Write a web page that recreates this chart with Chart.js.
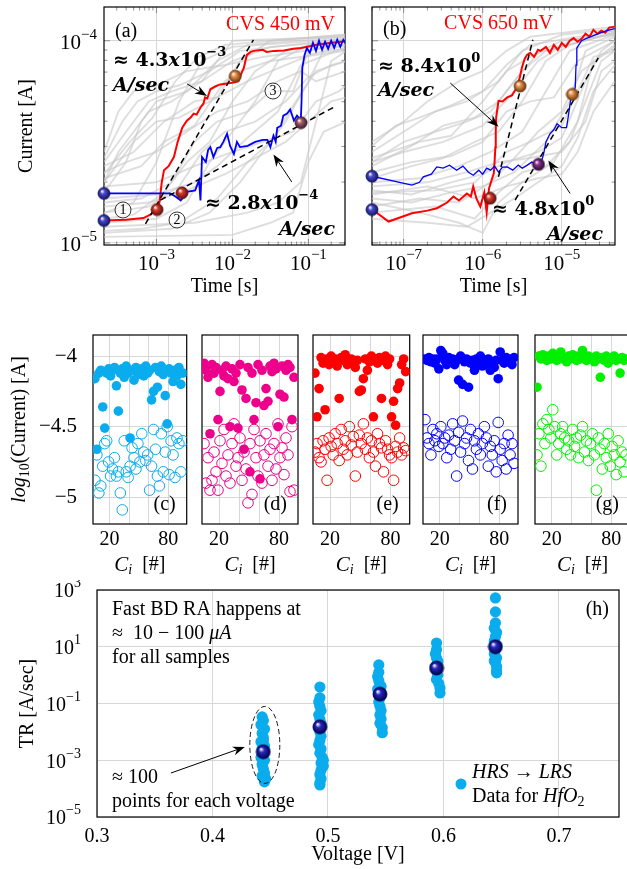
<!DOCTYPE html>
<html>
<head>
<meta charset="utf-8">
<script src="https://cdn.jsdelivr.net/npm/chart.js@4.4.1/dist/chart.umd.min.js"></script>
<style>
  body { margin: 0; width: 627px; height: 869px; position: relative; overflow: hidden; background: #fff; }
  canvas { position: absolute; }
</style>
</head>
<body>
<script>
// ---------- data ----------
// panels (a) and (b): [log10(time / s), log10(current / A)]
const redA = [[-3.69,-4.889],[-3.4,-4.885],[-3.17,-4.877],[-3.08,-4.86],[-3.0,-4.833],[-2.96,-4.8],[-2.93,-4.7],[-2.9,-4.64],[-2.84,-4.62],[-2.77,-4.575],[-2.72,-4.5],[-2.66,-4.43],[-2.6,-4.395],[-2.55,-4.38],[-2.51,-4.36],[-2.47,-4.365],[-2.42,-4.33],[-2.38,-4.31],[-2.36,-4.28],[-2.33,-4.285],[-2.29,-4.24],[-2.22,-4.225],[-2.16,-4.216],[-2.05,-4.21],[-1.98,-4.207],[-1.92,-4.2],[-1.88,-4.16],[-1.85,-4.134],[-1.81,-4.07],[-1.76,-4.055],[-1.72,-4.05],[-1.6,-4.045],[-1.55,-4.055],[-1.45,-4.05],[-1.32,-4.048],[-1.2,-4.04],[-1.1,-4.036],[-1.0,-4.028],[-0.89,-4.02],[-0.75,-4.012],[-0.6,-4.006],[-0.51,-4.003]];
const blueA = [[-3.69,-4.755],[-3.2,-4.755],[-2.82,-4.755],[-2.75,-4.77],[-2.68,-4.79],[-2.63,-4.765],[-2.6,-4.747],[-2.49,-4.74],[-2.44,-4.69],[-2.42,-4.79],[-2.4,-4.575],[-2.35,-4.6],[-2.32,-4.54],[-2.29,-4.526],[-2.25,-4.575],[-2.2,-4.53],[-2.16,-4.526],[-2.12,-4.5],[-2.07,-4.46],[-2.03,-4.52],[-1.98,-4.56],[-1.94,-4.5],[-1.9,-4.526],[-1.8,-4.52],[-1.7,-4.5],[-1.6,-4.49],[-1.54,-4.49],[-1.5,-4.526],[-1.46,-4.47],[-1.43,-4.5],[-1.41,-4.43],[-1.36,-4.42],[-1.33,-4.37],[-1.28,-4.36],[-1.24,-4.34],[-1.19,-4.395],[-1.15,-4.37],[-1.1,-4.395],[-1.09,-4.3],[-1.08,-4.134],[-1.05,-4.07],[-1.02,-4.036],[-0.98,-4.06],[-0.94,-4.01],[-0.9,-4.05],[-0.86,-4.0],[-0.82,-4.045],[-0.78,-4.005],[-0.74,-4.04],[-0.7,-4.0],[-0.66,-4.035],[-0.62,-3.995],[-0.58,-4.03],[-0.54,-3.995],[-0.51,-4.01]];
const grayA = [
  [[-3.69,-4.85],[-3.3,-4.8],[-3.0,-4.6],[-2.7,-4.3],[-2.4,-4.1],[-2.0,-4.03],[-0.5,-3.99]],
  [[-3.69,-4.75],[-3.4,-4.6],[-3.2,-4.4],[-3.0,-4.3],[-2.6,-4.25],[-2.2,-4.1],[-1.8,-4.02],[-0.5,-3.98]],
  [[-3.69,-4.7],[-3.5,-4.55],[-3.3,-4.45],[-3.1,-4.35],[-2.8,-4.3],[-2.4,-4.2],[-2.0,-4.1],[-1.5,-4.03],[-0.5,-4.0]],
  [[-3.69,-4.9],[-3.0,-4.88],[-2.6,-4.8],[-2.3,-4.6],[-2.0,-4.45],[-1.7,-4.3],[-1.4,-4.1],[-1.0,-4.02],[-0.5,-4.0]],
  [[-3.69,-4.95],[-2.8,-4.93],[-2.3,-4.85],[-1.9,-4.7],[-1.6,-4.55],[-1.3,-4.4],[-1.0,-4.2],[-0.8,-4.05],[-0.5,-4.02]],
  [[-3.69,-4.8],[-3.2,-4.78],[-2.8,-4.7],[-2.5,-4.5],[-2.2,-4.4],[-1.8,-4.35],[-1.5,-4.25],[-1.2,-4.25],[-1.0,-4.05],[-0.5,-4.0]],
  [[-3.69,-4.65],[-3.4,-4.6],[-3.0,-4.55],[-2.6,-4.45],[-2.2,-4.35],[-1.8,-4.3],[-1.4,-4.2],[-1.1,-4.15],[-0.9,-4.2],[-0.5,-4.15]],
  [[-3.69,-4.6],[-3.4,-4.45],[-3.1,-4.3],[-2.8,-4.25],[-2.4,-4.2],[-2.0,-4.0],[-0.5,-3.98]],
  [[-3.69,-4.92],[-2.5,-4.9],[-1.8,-4.85],[-1.4,-4.8],[-1.1,-4.7],[-0.9,-4.4],[-0.7,-4.1],[-0.5,-4.05]],
  [[-3.69,-4.72],[-3.0,-4.7],[-2.5,-4.62],[-2.0,-4.55],[-1.6,-4.5],[-1.2,-4.45],[-0.9,-4.3],[-0.6,-4.25],[-0.5,-4.22]],
  [[-3.69,-4.55],[-3.5,-4.35],[-3.3,-4.25],[-3.0,-4.22],[-2.6,-4.15],[-2.1,-4.12],[-1.6,-4.08],[-0.5,-4.02]],
  [[-3.69,-4.85],[-3.1,-4.82],[-2.7,-4.72],[-2.4,-4.55],[-2.1,-4.45],[-1.7,-4.4],[-1.3,-4.3],[-1.0,-4.18],[-0.7,-4.12],[-0.5,-4.1]],
  [[-3.69,-4.97],[-2.0,-4.96],[-1.5,-4.9],[-1.2,-4.85],[-1.0,-4.6],[-0.8,-4.45],[-0.5,-4.4]],
  [[-3.69,-4.68],[-3.2,-4.62],[-2.9,-4.5],[-2.5,-4.42],[-2.1,-4.2],[-1.9,-4.15],[-1.5,-4.1],[-0.5,-4.05]],
  [[-3.69,-4.62],[-3.3,-4.55],[-2.9,-4.4],[-2.5,-4.3],[-2.2,-4.28],[-1.9,-4.1],[-1.5,-4.0],[-0.5,-3.97]],
  [[-3.69,-4.78],[-3.0,-4.76],[-2.5,-4.7],[-2.2,-4.62],[-1.8,-4.48],[-1.4,-4.35],[-1.1,-4.12],[-0.5,-4.03]],
  [[-3.69,-4.88],[-3.3,-4.86],[-2.9,-4.75],[-2.6,-4.6],[-2.3,-4.5],[-2.0,-4.3],[-1.7,-4.15],[-1.3,-4.05],[-0.5,-4.0]],
  [[-3.69,-4.7],[-3.3,-4.5],[-3.0,-4.4],[-2.7,-4.38],[-2.3,-4.3],[-1.8,-4.2],[-1.3,-4.12],[-0.9,-4.06],[-0.5,-4.04]],
  [[-3.69,-4.94],[-3.2,-4.93],[-2.7,-4.9],[-2.2,-4.78],[-1.8,-4.6],[-1.5,-4.5],[-1.2,-4.32],[-0.9,-4.15],[-0.5,-4.1]],
  [[-3.69,-4.58],[-3.45,-4.4],[-3.25,-4.3],[-3.0,-4.25],[-2.7,-4.22],[-2.3,-4.15],[-1.9,-4.05],[-0.5,-3.99]],
  [[-3.69,-4.82],[-3.1,-4.8],[-2.6,-4.74],[-2.1,-4.66],[-1.7,-4.58],[-1.3,-4.5],[-1.0,-4.4],[-0.7,-4.3],[-0.5,-4.28]],
  [[-3.69,-4.66],[-3.35,-4.5],[-3.05,-4.38],[-2.75,-4.2],[-2.45,-4.08],[-2.1,-4.02],[-0.5,-3.97]]
];
const dashA = [[[-3.144,-4.905],[-1.723,-3.995]], [[-2.948,-4.788],[-0.673,-4.33]]];
const ballsA = [[-3.69,-4.755],[-3.69,-4.889],[-2.991,-4.835],[-2.663,-4.752],[-1.963,-4.175],[-1.097,-4.405]];

const redB = [[-7.4,-4.833],[-7.19,-4.894],[-6.895,-4.853],[-6.7,-4.84],[-6.58,-4.828],[-6.45,-4.8],[-6.37,-4.77],[-6.3,-4.79],[-6.2,-4.755],[-6.15,-4.77],[-6.12,-4.72],[-6.08,-4.78],[-6.03,-4.82],[-5.98,-4.75],[-5.95,-4.85],[-5.92,-4.73],[-5.9,-4.705],[-5.88,-4.68],[-5.86,-4.657],[-5.85,-4.6],[-5.84,-4.526],[-5.835,-4.45],[-5.83,-4.38],[-5.8,-4.297],[-5.75,-4.3],[-5.69,-4.28],[-5.63,-4.27],[-5.57,-4.232],[-5.53,-4.18],[-5.505,-4.134],[-5.47,-4.09],[-5.44,-4.07],[-5.4,-4.06],[-5.35,-4.08],[-5.3,-4.045],[-5.27,-4.05],[-5.2,-4.03],[-5.15,-4.06],[-5.1,-4.02],[-5.05,-4.045],[-5.0,-4.01],[-4.95,-4.03],[-4.9,-4.0],[-4.85,-3.987],[-4.8,-4.005],[-4.75,-3.99],[-4.7,-3.965],[-4.65,-3.98],[-4.6,-3.946],[-4.55,-3.965],[-4.5,-3.95],[-4.45,-3.96],[-4.4,-3.935],[-4.33,-3.93]];
const blueB = [[-7.4,-4.67],[-6.895,-4.714],[-6.8,-4.7],[-6.75,-4.673],[-6.65,-4.66],[-6.58,-4.624],[-6.5,-4.63],[-6.42,-4.615],[-6.33,-4.64],[-6.25,-4.62],[-6.18,-4.65],[-6.12,-4.665],[-6.05,-4.64],[-6.0,-4.66],[-5.95,-4.63],[-5.9,-4.64],[-5.85,-4.62],[-5.8,-4.65],[-5.75,-4.625],[-5.69,-4.624],[-5.62,-4.64],[-5.55,-4.615],[-5.5,-4.63],[-5.44,-4.616],[-5.38,-4.6],[-5.3,-4.616],[-5.26,-4.6],[-5.23,-4.56],[-5.2,-4.5],[-5.15,-4.46],[-5.1,-4.44],[-5.06,-4.41],[-5.0,-4.43],[-4.94,-4.43],[-4.92,-4.38],[-4.89,-4.297],[-4.86,-4.26],[-4.83,-4.232],[-4.82,-4.12],[-4.81,-4.036],[-4.75,-4.0],[-4.68,-3.987],[-4.6,-3.975],[-4.52,-3.962],[-4.43,-3.95],[-4.33,-3.94]];
const grayB = [
  [[-7.4,-4.55],[-7.0,-4.45],[-6.6,-4.35],[-6.2,-4.3],[-5.8,-4.2],[-5.5,-4.05],[-5.0,-3.97],[-4.33,-3.94]],
  [[-7.4,-4.6],[-7.0,-4.55],[-6.5,-4.5],[-6.0,-4.42],[-5.6,-4.25],[-5.3,-4.1],[-4.9,-4.0],[-4.33,-3.95]],
  [[-7.4,-4.7],[-6.8,-4.68],[-6.3,-4.62],[-5.9,-4.55],[-5.5,-4.45],[-5.2,-4.25],[-4.9,-4.05],[-4.33,-3.97]],
  [[-7.4,-4.78],[-6.9,-4.8],[-6.4,-4.75],[-6.0,-4.72],[-5.6,-4.65],[-5.2,-4.5],[-4.9,-4.3],[-4.7,-4.05],[-4.33,-3.98]],
  [[-7.4,-4.8],[-6.8,-4.85],[-6.3,-4.9],[-6.0,-4.95],[-5.8,-4.8],[-5.5,-4.7],[-5.1,-4.6],[-4.8,-4.4],[-4.6,-4.1],[-4.33,-4.02]],
  [[-7.4,-4.5],[-7.0,-4.4],[-6.7,-4.3],[-6.3,-4.2],[-6.0,-4.15],[-5.7,-4.05],[-5.4,-3.98],[-4.33,-3.93]],
  [[-7.4,-4.65],[-6.9,-4.6],[-6.4,-4.57],[-6.0,-4.5],[-5.7,-4.35],[-5.4,-4.3],[-5.1,-4.28],[-4.8,-4.1],[-4.33,-4.0]],
  [[-7.4,-4.72],[-6.7,-4.7],[-6.2,-4.65],[-5.8,-4.6],[-5.4,-4.58],[-5.0,-4.55],[-4.7,-4.4],[-4.5,-4.15],[-4.33,-4.1]],
  [[-7.4,-4.62],[-6.9,-4.52],[-6.5,-4.42],[-6.1,-4.38],[-5.8,-4.3],[-5.5,-4.15],[-5.2,-4.05],[-4.33,-3.96]],
  [[-7.4,-4.75],[-6.6,-4.74],[-6.1,-4.7],[-5.7,-4.55],[-5.4,-4.5],[-5.0,-4.42],[-4.8,-4.25],[-4.6,-4.08],[-4.33,-4.05]],
  [[-7.4,-4.85],[-6.6,-4.82],[-6.1,-4.88],[-5.8,-4.75],[-5.5,-4.65],[-5.2,-4.62],[-4.9,-4.5],[-4.7,-4.3],[-4.5,-4.1],[-4.33,-4.05]],
  [[-7.4,-4.58],[-6.8,-4.5],[-6.4,-4.47],[-6.0,-4.3],[-5.7,-4.15],[-5.4,-4.08],[-5.0,-4.0],[-4.33,-3.97]],
  [[-7.4,-4.68],[-6.9,-4.62],[-6.5,-4.58],[-6.1,-4.5],[-5.8,-4.45],[-5.5,-4.3],[-5.2,-4.1],[-4.9,-4.02],[-4.33,-3.96]],
  [[-7.4,-4.82],[-6.8,-4.78],[-6.3,-4.8],[-5.9,-4.7],[-5.6,-4.58],[-5.3,-4.45],[-5.0,-4.35],[-4.75,-4.15],[-4.33,-4.03]],
  [[-7.4,-4.52],[-7.1,-4.42],[-6.8,-4.38],[-6.4,-4.32],[-6.0,-4.25],[-5.7,-4.12],[-5.4,-4.02],[-4.33,-3.95]],
  [[-7.4,-4.74],[-6.9,-4.76],[-6.4,-4.7],[-6.0,-4.66],[-5.7,-4.6],[-5.3,-4.55],[-5.0,-4.48],[-4.7,-4.2],[-4.5,-4.05],[-4.33,-4.0]],
  [[-7.4,-4.88],[-6.7,-4.9],[-6.2,-4.92],[-5.9,-4.85],[-5.6,-4.78],[-5.3,-4.7],[-5.0,-4.62],[-4.8,-4.48],[-4.6,-4.25],[-4.33,-4.12]],
  [[-7.4,-4.6],[-7.0,-4.5],[-6.6,-4.45],[-6.2,-4.4],[-5.9,-4.35],[-5.6,-4.2],[-5.3,-4.06],[-4.33,-3.96]],
  [[-7.4,-4.76],[-6.7,-4.72],[-6.1,-4.78],[-5.7,-4.72],[-5.3,-4.68],[-5.0,-4.66],[-4.8,-4.55],[-4.6,-4.35],[-4.33,-4.2]]
];
const dashB = [[[-5.8,-4.673],[-5.366,-3.995]], [[-5.59,-4.788],[-4.538,-4.085]]];
const ballsB = [[-7.4,-4.67],[-7.4,-4.835],[-5.905,-4.779],[-5.527,-4.224],[-5.295,-4.611],[-4.866,-4.265]];

const timeTicksA = [-3, -2, -1];
const timeTicksB = [-7, -6, -5];
const currentTicks = [-5, -4];

// panels (c)-(g): cycle number vs log10(current)
const cycles = [5,7,9,11,13,15,17,19,21,23,25,27,29,31,33,35,37,39,41,43,45,47,49,51,53,55,57,59,61,63,65,67,69,71,73,75,77,79,81,83,85,87,89,91,93,95];
const cFilled = [-4.16,-4.66,-4.12,-4.1,-4.36,-4.51,-4.12,-4.09,-4.14,-4.1,-4.08,-4.21,-4.39,-4.12,-4.09,-4.15,-4.07,-4.12,-4.58,-4.1,-4.17,-4.08,-4.13,-4.11,-4.09,-4.14,-4.07,-4.12,-4.1,-4.31,-4.25,-4.08,-4.22,-4.11,-4.07,-4.13,-4.28,-4.48,-4.09,-4.12,-4.18,-4.1,-4.14,-4.08,-4.2,-4.12];
const cOpen = [-4.88,-4.7,-4.97,-4.92,-4.78,-4.62,-4.6,-4.75,-4.85,-4.8,-4.72,-4.85,-4.82,-4.97,-5.09,-4.6,-4.82,-4.86,-4.78,-4.65,-4.72,-4.8,-4.62,-4.75,-4.55,-4.68,-4.74,-4.7,-4.95,-4.78,-4.52,-4.66,-4.85,-4.92,-4.55,-4.82,-4.68,-4.5,-4.84,-4.6,-4.7,-4.86,-4.58,-4.62,-4.82,-4.6];
const dFilled = [-4.05,-4.1,-4.15,-4.55,-4.06,-4.12,-4.08,-4.45,-4.25,-4.1,-4.14,-4.07,-4.16,-4.5,-4.09,-4.18,-4.12,-4.51,-4.06,-4.24,-4.66,-4.3,-4.08,-4.82,-4.12,-4.45,-4.33,-4.06,-4.87,-4.1,-4.35,-4.23,-4.32,-4.07,-4.11,-4.05,-4.09,-4.5,-4.27,-4.07,-4.29,-4.1,-4.06,-4.08,-4.45,-4.15];
const dOpen = [-4.62,-4.9,-4.72,-4.95,-4.88,-4.68,-4.82,-4.95,-4.6,-4.76,-4.52,-4.85,-4.7,-4.9,-4.62,-4.48,-4.78,-4.72,-4.58,-4.88,-4.68,-4.8,-5.04,-4.62,-4.98,-4.52,-4.72,-4.85,-4.6,-4.9,-4.7,-4.55,-4.78,-4.66,-4.88,-4.62,-4.8,-4.48,-4.72,-4.65,-4.84,-4.58,-4.7,-4.96,-4.5,-4.95];
const eFilled = [-4.12,-4.43,-4.23,-4.01,-4.05,-4.38,-4.02,-4.06,-4.0,-4.04,-4.02,-4.07,-4.3,-4.01,-4.03,-3.99,-4.06,-4.04,-4.02,-4.05,-4.08,-4.03,-4.25,-4.24,-4.16,-4.02,-4.1,-4.04,-4.0,-4.43,-4.02,-4.05,-4.01,-4.3,-4.03,-4.0,-4.06,-4.02,-4.43,-4.32,-4.49,-4.23,-4.19,-4.06,-4.02,-4.11];
const eOpen = [-4.68,-4.62,-4.72,-4.75,-4.6,-4.66,-4.88,-4.58,-4.64,-4.7,-4.55,-4.62,-4.74,-4.52,-4.66,-4.6,-4.7,-4.5,-4.63,-4.57,-4.85,-4.68,-4.56,-4.62,-4.48,-4.66,-4.58,-4.72,-4.6,-4.68,-4.78,-4.55,-4.62,-4.65,-4.82,-4.6,-4.66,-4.7,-4.72,-4.88,-4.64,-4.68,-4.58,-4.7,-4.65,-4.67];
const fFilled = [-4.02,-4.03,-4.01,-4.04,-4.02,-4.05,-4.02,-4.09,-3.96,-3.98,-4.03,-4.06,-4.01,-4.04,-4.02,-4.06,-4.03,-4.17,-4.0,-4.2,-4.04,-4.02,-4.22,-4.05,-4.03,-4.1,-4.02,-4.06,-4.0,-4.07,-4.03,-4.05,-4.02,-4.1,-4.04,-4.08,-4.03,-4.16,-3.97,-4.03,-4.05,-4.01,-4.04,-4.02,-4.06,-4.01];
const fOpen = [-4.45,-4.58,-4.62,-4.7,-4.52,-4.6,-4.55,-4.64,-4.5,-4.62,-4.58,-4.72,-4.56,-4.66,-4.48,-4.6,-4.85,-4.54,-4.68,-4.46,-4.62,-4.58,-4.74,-4.52,-4.8,-4.6,-4.66,-4.55,-4.7,-4.62,-4.5,-4.58,-4.78,-4.64,-4.7,-4.6,-4.82,-4.47,-4.66,-4.74,-4.62,-4.8,-4.56,-4.7,-4.62,-4.76];
const gFilled = [-4.22,-4.0,-4.02,-3.99,-4.01,-4.03,-4.0,-4.02,-3.98,-4.01,-4.03,-4.0,-3.97,-4.02,-4.01,-4.04,-4.0,-4.02,-3.99,-4.01,-4.03,-4.0,-4.02,-3.96,-4.01,-4.03,-4.0,-4.02,-4.01,-4.04,-4.0,-4.02,-4.15,-4.01,-4.03,-4.0,-4.05,-4.02,-4.01,-4.0,-4.03,-4.02,-4.12,-4.01,-4.03,-4.02];
const gOpen = [-4.7,-4.55,-4.78,-4.48,-4.62,-4.45,-4.52,-4.58,-4.38,-4.5,-4.7,-4.62,-4.55,-4.5,-4.58,-4.66,-4.6,-4.7,-4.52,-4.64,-4.58,-4.72,-4.56,-4.5,-4.68,-4.6,-4.74,-4.62,-4.55,-4.7,-4.95,-4.58,-4.66,-4.8,-4.62,-4.72,-4.55,-4.78,-4.64,-4.7,-4.84,-4.6,-4.75,-4.68,-4.82,-4.7];
const cycleTicks = [20, 40, 60, 80];
const cycleLabels = [20, 80];
const logCurrentTicks = [-5, -4.5, -4];

// panel (h): [voltage / V, log10(TR / A s^-1)]
const trPoints = [
  [0.443,-1.47],[0.444,-1.6],[0.442,-1.75],[0.445,-1.9],[0.443,-2.05],[0.444,-2.2],[0.442,-2.35],[0.445,-2.5],[0.443,-2.6],[0.444,-2.75],[0.442,-2.9],[0.445,-3.0],[0.443,-3.15],[0.444,-3.3],[0.445,-3.45],[0.443,-3.55],[0.446,-3.65],[0.445,-3.76],[0.444,-2.3],[0.443,-2.85],
  [0.493,-0.42],[0.493,-0.8],[0.492,-0.95],[0.493,-1.1],[0.494,-1.25],[0.492,-1.4],[0.493,-1.55],[0.494,-1.7],[0.492,-1.85],[0.493,-2.0],[0.494,-2.15],[0.493,-2.3],[0.492,-2.45],[0.494,-2.6],[0.493,-2.75],[0.495,-2.9],[0.496,-3.0],[0.494,-3.1],[0.496,-3.2],[0.494,-3.35],[0.493,-3.5],[0.494,-3.65],[0.493,-3.8],[0.493,-3.87],
  [0.544,0.36],[0.544,0.1],[0.543,-0.05],[0.544,-0.2],[0.545,-0.35],[0.543,-0.5],[0.544,-0.65],[0.545,-0.8],[0.544,-0.95],[0.545,-1.1],[0.546,-1.25],[0.545,-1.4],[0.546,-1.55],[0.545,-1.7],[0.547,-1.85],[0.547,-2.03],[0.546,-0.4],
  [0.594,1.13],[0.594,0.9],[0.593,0.75],[0.594,0.6],[0.595,0.45],[0.593,0.3],[0.594,0.15],[0.595,0.0],[0.594,-0.15],[0.596,-0.3],[0.597,-0.45],[0.597,-0.63],[0.595,0.5],
  [0.645,2.72],[0.645,2.23],[0.645,1.84],[0.644,1.65],[0.646,1.5],[0.645,1.35],[0.644,1.2],[0.646,1.05],[0.645,0.9],[0.644,0.75],[0.646,0.6],[0.645,0.45],[0.646,0.3],[0.646,0.15],[0.646,0.08],[0.644,0.5]
];
const trMeans = [[0.444,-2.7],[0.493,-1.82],[0.545,-0.67],[0.594,0.25],[0.645,1.0]];
const voltTicks = [0.3, 0.4, 0.5, 0.6, 0.7];
const trTicks = [-5, -3, -1, 1, 3];

// ---------- helpers ----------
const SERIF = '"Liberation Serif", "Times New Roman", serif';
const WIDE = '"DejaVu Serif", serif';
const f = (px, st) => (st ? st + ' ' : '') + px + 'px ' + SERIF;
const fb = (px, st) => (st ? st + ' ' : '') + 'bold ' + px + 'px ' + WIDE;
const L = v => Math.pow(10, v);
const pts = arr => arr.map(p => ({ x: L(p[0]), y: L(p[1]) }));
const sup = e => String(e).replace('-', '\u2212');
const pow10 = (e, s) => [['10', f(s)], [sup(e), f(Math.round(s * 0.72)), -s * 0.42]];

function rich(ctx, parts, x, y, align, color) {
  ctx.save();
  ctx.fillStyle = color || '#000';
  ctx.textBaseline = 'middle';
  ctx.textAlign = 'left';
  let w = 0;
  for (const p of parts) { ctx.font = p[1]; w += ctx.measureText(p[0]).width; }
  let cx = align === 'right' ? x - w : align === 'center' ? x - w / 2 : x;
  for (const p of parts) {
    ctx.font = p[1];
    ctx.fillText(p[0], cx, y + (p[2] || 0));
    cx += ctx.measureText(p[0]).width;
  }
  ctx.restore();
}
function vtext(ctx, parts, x, y) {
  ctx.save(); ctx.translate(x, y); ctx.rotate(-Math.PI / 2);
  rich(ctx, parts, 0, 0, 'center');
  ctx.restore();
}
function arrow(ctx, x1, y1, x2, y2) {
  const a = Math.atan2(y2 - y1, x2 - x1), hl = 12, hw = 4.5;
  ctx.save();
  ctx.strokeStyle = ctx.fillStyle = '#000';
  ctx.lineWidth = 1;
  ctx.beginPath(); ctx.moveTo(x1, y1);
  ctx.lineTo(x2 - hl * 0.7 * Math.cos(a), y2 - hl * 0.7 * Math.sin(a)); ctx.stroke();
  ctx.beginPath(); ctx.moveTo(x2, y2);
  ctx.lineTo(x2 - hl * Math.cos(a) + hw * Math.sin(a), y2 - hl * Math.sin(a) - hw * Math.cos(a));
  ctx.lineTo(x2 - hl * 0.7 * Math.cos(a), y2 - hl * 0.7 * Math.sin(a));
  ctx.lineTo(x2 - hl * Math.cos(a) - hw * Math.sin(a), y2 - hl * Math.sin(a) + hw * Math.cos(a));
  ctx.closePath(); ctx.fill();
  ctx.restore();
}
function circled(ctx, x, y, t) {
  ctx.save();
  ctx.strokeStyle = '#000'; ctx.lineWidth = 0.8;
  ctx.fillStyle = 'rgba(255,255,255,0.6)';
  ctx.beginPath(); ctx.arc(x, y, 8, 0, 2 * Math.PI); ctx.fill(); ctx.stroke();
  ctx.restore();
  rich(ctx, [[t, f(14)]], x, y + 0.5, 'center');
}
function sphere(main, dark, r) {
  const c = document.createElement('canvas');
  c.width = c.height = 2 * r + 2;
  const g = c.getContext('2d'), m = r + 1;
  const grad = g.createRadialGradient(m - r * 0.35, m - r * 0.4, r * 0.05, m, m, r);
  grad.addColorStop(0, '#ffffff');
  grad.addColorStop(0.35, main);
  grad.addColorStop(1, dark);
  g.fillStyle = grad;
  g.beginPath(); g.arc(m, m, r, 0, 2 * Math.PI); g.fill();
  g.strokeStyle = dark; g.lineWidth = 0.8; g.stroke();
  return c;
}
const ballBlue = sphere('#4a4ad0', '#14145a', 6);
const ballRed = sphere('#d83a2a', '#5a1010', 6);
const ballOrange = sphere('#e8904a', '#6a3a10', 6);
const ballPurple = sphere('#8a3090', '#2a0a30', 6);
const ballMauve = sphere('#a8606a', '#3a1a30', 6);
const ballMean = sphere('#2828c0', '#00004a', 7);

function mkCanvas(r) {
  const c = document.createElement('canvas');
  c.width = r[2]; c.height = r[3];
  c.style.left = r[0] + 'px'; c.style.top = r[1] + 'px';
  document.body.appendChild(c);
  return c;
}
// rect = [x, y, w, h] of the canvas, area = [left, top, right, bottom] of the plot box (page px)
function lay(rect, area) {
  return {
    padding: { left: 0, top: area[1] - rect[1], right: rect[0] + rect[2] - area[2], bottom: 0 },
    yW: area[0] - rect[0],
    xH: rect[1] + rect[3] - area[3]
  };
}
// fix axis sizes so the plot box lands where the figure has it
const fitX = h => s => { s.height = h; s.paddingLeft = 0; s.paddingRight = 0; };
const fitY = w => s => { s.width = w; s.paddingTop = 0; s.paddingBottom = 0; };

function boxPlugin(minor) {
  return {
    id: 'box',
    beforeDatasetsDraw(c) {
      const { ctx, chartArea: a } = c;
      ctx.save();
      if (minor) {
        ctx.strokeStyle = '#666'; ctx.lineWidth = 0.7;
        ctx.beginPath();
        for (const k of ['x', 'y']) {
          const s = c.scales[k];
          const lo = Math.floor(Math.log10(s.min)), hi = Math.ceil(Math.log10(s.max));
          for (let d = lo; d <= hi; d++) {
            for (let m = 1; m <= 9; m++) {
              const v = m * Math.pow(10, d);
              if (v <= s.min || v >= s.max) continue;
              const p = s.getPixelForValue(v), len = m === 1 ? 6 : 3.5;
              if (k === 'y') {
                ctx.moveTo(a.left, p); ctx.lineTo(a.left + len, p);
                ctx.moveTo(a.right, p); ctx.lineTo(a.right - len, p);
              } else {
                ctx.moveTo(p, a.bottom); ctx.lineTo(p, a.bottom - len);
                ctx.moveTo(p, a.top); ctx.lineTo(p, a.top + len);
              }
            }
          }
        }
        ctx.stroke();
      }
      ctx.strokeStyle = '#000'; ctx.lineWidth = 1.2;
      ctx.strokeRect(a.left, a.top, a.right - a.left, a.bottom - a.top);
      ctx.restore();
    }
  };
}
const GRID = { color: '#d2d2d2', lineWidth: 0.9, drawTicks: false };
const baseOpts = { responsive: false, animation: false, events: [],
  plugins: { legend: { display: false }, tooltip: { enabled: false } } };

// ---------- (a) and (b) ----------
function curveChart(rect, area, xLim, xTicks, d, draw) {
  const g = lay(rect, area);
  const ds = [];
  d.gray.forEach(c => ds.push({ data: pts(c), showLine: true, pointRadius: 0, borderColor: 'rgba(200,200,200,0.6)', borderWidth: 1.9, order: 5 }));
  ds.push({ data: pts(d.red), showLine: true, pointRadius: 0, borderColor: '#ff0000', borderWidth: 2, order: 3 });
  ds.push({ data: pts(d.blue), showLine: true, pointRadius: 0, borderColor: '#0000ff', borderWidth: d.blueW, order: 2 });
  d.dash.forEach(c => ds.push({ data: pts(c), showLine: true, pointRadius: 0, borderColor: '#000', borderWidth: 1.5, borderDash: [6, 4], order: 1 }));
  ds.push({ data: pts(d.balls), pointStyle: d.ballStyles, pointRadius: 6, clip: false, order: 0 });
  return new Chart(mkCanvas(rect), {
    type: 'scatter',
    data: { datasets: ds },
    options: Object.assign({}, baseOpts, {
      layout: { padding: g.padding },
      scales: {
        x: { type: 'logarithmic', min: L(xLim[0]), max: L(xLim[1]),
             afterBuildTicks: s => { s.ticks = xTicks.map(e => ({ value: L(e) })); },
             afterFit: fitX(g.xH),
             ticks: { display: false }, grid: GRID, border: { display: false } },
        y: { type: 'logarithmic', min: L(-5.01), max: L(-3.833),
             afterBuildTicks: s => { s.ticks = currentTicks.map(e => ({ value: L(e) })); },
             afterFit: fitY(g.yW),
             ticks: { display: false }, grid: GRID, border: { display: false } }
      }
    }),
    plugins: [boxPlugin(true), { id: 'ann', afterDraw: c => draw(c, c.ctx) }]
  });
}
const approx = (m, e) => [['\u2248 ', fb(19)], [m, fb(19)], ['x', fb(19, 'italic')], ['10', fb(19)], [sup(e), fb(13), -8]];

curveChart([0, 0, 352, 300], [104, 5, 345, 245], [-3.69, -0.518], timeTicksA,
  { gray: grayA, red: redA, blue: blueA, blueW: 1.8, dash: dashA, balls: ballsA,
    ballStyles: [ballBlue, ballBlue, ballRed, ballRed, ballOrange, ballMauve] },
  (c, ctx) => {
    const a = c.chartArea, X = c.scales.x, Y = c.scales.y;
    const px = e => X.getPixelForValue(L(e)), py = e => Y.getPixelForValue(L(e));
    timeTicksA.forEach(e => rich(ctx, pow10(e, 21), px(e), a.bottom + 19, 'center'));
    currentTicks.forEach(e => rich(ctx, pow10(e, 21), a.left - 7, py(e) + 3, 'right'));
    rich(ctx, [['Time [s]', f(20)]], (a.left + a.right) / 2, a.bottom + 42, 'center');
    vtext(ctx, [['Current [A]', f(20)]], a.left - 77, (a.top + a.bottom) / 2);
    rich(ctx, [['(a)', f(20)]], a.left + 11, a.top + 25, 'left');
    rich(ctx, [['CVS 450 mV', f(20)]], a.right - 10, a.top + 18, 'right', '#ff0000');
    rich(ctx, approx('4.3', -3), a.left + 9, a.top + 54, 'left');
    rich(ctx, [['A/sec', fb(19, 'italic')]], a.left + 9, a.top + 79, 'left');
    rich(ctx, approx('2.8', -4), a.left + 101, a.top + 197, 'left');
    rich(ctx, [['A/sec', fb(19, 'italic')]], a.right - 10, a.top + 223, 'right');
    circled(ctx, a.left + 169, a.top + 84, '3');
    circled(ctx, a.left + 19, a.top + 203, '1');
    circled(ctx, a.left + 73, a.top + 213, '2');
    arrow(ctx, px(-2.597), py(-4.213), px(-2.335), py(-4.273));
    arrow(ctx, px(-1.219), py(-4.698), px(-1.46), py(-4.562));
  });

curveChart([352, 0, 275, 300], [372, 5, 615, 245], [-7.4, -4.327], timeTicksB,
  { gray: grayB, red: redB, blue: blueB, blueW: 1.3, dash: dashB, balls: ballsB,
    ballStyles: [ballBlue, ballBlue, ballRed, ballOrange, ballPurple, ballOrange] },
  (c, ctx) => {
    const a = c.chartArea, X = c.scales.x, Y = c.scales.y;
    const px = e => X.getPixelForValue(L(e)), py = e => Y.getPixelForValue(L(e));
    timeTicksB.forEach(e => rich(ctx, pow10(e, 21), px(e), a.bottom + 19, 'center'));
    rich(ctx, [['Time [s]', f(20)]], (a.left + a.right) / 2, a.bottom + 42, 'center');
    rich(ctx, [['(b)', f(20)]], a.left + 11, a.top + 23, 'left');
    rich(ctx, [['CVS 650 mV', f(20)]], a.left + 181, a.top + 17, 'right', '#ff0000');
    rich(ctx, approx('8.4', 0), a.left + 6, a.top + 60, 'left');
    rich(ctx, [['A/sec', fb(19, 'italic')]], a.left + 6, a.top + 84, 'left');
    rich(ctx, approx('4.8', 0), a.left + 120, a.top + 203, 'left');
    rich(ctx, [['A/sec', fb(19, 'italic')]], a.right - 12, a.top + 228, 'right');
    arrow(ctx, px(-6.41), py(-4.209), px(-5.8), py(-4.425));
    arrow(ctx, px(-4.895), py(-4.755), px(-5.17), py(-4.592));
  });

// ---------- (c)-(g) ----------
function cyclePanel(rect, area, color, filled, open, letter, first) {
  const g = lay(rect, area);
  return new Chart(mkCanvas(rect), {
    type: 'scatter',
    data: { datasets: [
      { data: filled.map((v, i) => ({ x: cycles[i], y: v })), pointRadius: 4.8, backgroundColor: color, borderWidth: 0 },
      { data: open.map((v, i) => ({ x: cycles[i], y: v })), pointRadius: 5.3, backgroundColor: 'rgba(0,0,0,0)', borderColor: color, borderWidth: 1 }
    ] },
    options: Object.assign({}, baseOpts, {
      layout: { padding: g.padding },
      scales: {
        x: { type: 'linear', min: 3, max: 99,
             afterBuildTicks: s => { s.ticks = cycleTicks.map(v => ({ value: v })); },
             afterFit: fitX(g.xH),
             ticks: { autoSkip: false, maxRotation: 0, padding: 4, color: '#000', font: { family: SERIF, size: 20 },
                      callback: v => cycleLabels.includes(v) ? String(v) : '' },
             grid: GRID, border: { display: false } },
        y: { type: 'linear', min: -5.19, max: -3.85,
             afterBuildTicks: s => { s.ticks = logCurrentTicks.map(v => ({ value: v })); },
             afterFit: fitY(g.yW),
             ticks: { display: first, padding: 16, color: '#000', font: { family: SERIF, size: 21 }, callback: v => sup(v) },
             grid: GRID, border: { display: false } }
      }
    }),
    plugins: [boxPlugin(false), { id: 'ann', afterDraw: c => {
      const a = c.chartArea, ctx = c.ctx;
      rich(ctx, [['C', f(21, 'italic')], ['i', f(14, 'italic'), 5], ['  [#]', f(20)]], (a.left + a.right) / 2, a.bottom + 41, 'center');
      rich(ctx, [[letter, f(20)]], a.right - 11, a.bottom - 19, 'right');
      if (first) vtext(ctx, [['log', f(20, 'italic')], ['10', f(14), 5], ['(Current) [A]', f(20)]], a.left - 73, (a.top + a.bottom) / 2);
    } }]
  });
}
cyclePanel([0, 320, 193, 260], [93, 335, 188, 524], 'rgb(10,172,237)', cFilled, cOpen, '(c)', true);
cyclePanel([193, 320, 112, 260], [202, 335, 298, 524], 'rgb(236,0,140)', dFilled, dOpen, '(d)', false);
cyclePanel([305, 320, 111, 260], [313, 335, 410, 524], 'rgb(255,0,0)', eFilled, eOpen, '(e)', false);
cyclePanel([416, 320, 111, 260], [423, 335, 518, 524], 'rgb(0,0,255)', fFilled, fOpen, '(f)', false);
cyclePanel([527, 320, 113, 260], [535, 335, 630, 524], 'rgb(0,240,0)', gFilled, gOpen, '(g)', false);

// ---------- (h) ----------
(function () {
  const rect = [0, 580, 627, 289], g = lay(rect, [97, 590, 626, 817]);
  const cyan = 'rgb(10,172,237)';
  new Chart(mkCanvas(rect), {
    type: 'scatter',
    data: { datasets: [
      { data: trMeans.map(p => ({ x: p[0], y: L(p[1]) })), pointStyle: ballMean, pointRadius: 7, order: 0 },
      { data: trPoints.map(p => ({ x: p[0], y: L(p[1]) })), pointRadius: 5.6, backgroundColor: cyan, borderWidth: 0, order: 1 }
    ] },
    options: Object.assign({}, baseOpts, {
      layout: { padding: g.padding },
      scales: {
        x: { type: 'linear', min: 0.3, max: 0.752,
             afterBuildTicks: s => { s.ticks = voltTicks.map(v => ({ value: v })); },
             afterFit: fitX(g.xH),
             ticks: { autoSkip: false, maxRotation: 0, padding: 8, color: '#000', font: { family: SERIF, size: 20 },
                      callback: v => v.toFixed(1) },
             grid: GRID, border: { display: false } },
        y: { type: 'logarithmic', min: L(-5), max: L(3),
             afterBuildTicks: s => { s.ticks = trTicks.map(e => ({ value: L(e) })); },
             afterFit: fitY(g.yW),
             ticks: { display: false }, grid: GRID, border: { display: false } }
      }
    }),
    plugins: [boxPlugin(false), { id: 'ann', afterDraw: c => {
      const a = c.chartArea, ctx = c.ctx, X = c.scales.x, Y = c.scales.y;
      const px = v => X.getPixelForValue(v), py = e => Y.getPixelForValue(L(e));
      trTicks.forEach(e => rich(ctx, pow10(e, 20), a.left - 16, py(e) + 2, 'right'));
      rich(ctx, [['Voltage [V]', f(20)]], (a.left + a.right) / 2, a.bottom + 38, 'center');
      vtext(ctx, [['TR [A/sec]', f(20)]], a.left - 69, (a.top + a.bottom) / 2);
      rich(ctx, [['Fast BD RA happens at', f(20)]], a.left + 15, a.top + 20, 'left');
      rich(ctx, [['\u2248  10 \u2212 100 ', f(20)], ['\u03bcA', f(20, 'italic')]], a.left + 15, a.top + 44, 'left');
      rich(ctx, [['for all samples', f(20)]], a.left + 15, a.top + 68, 'left');
      rich(ctx, [['\u2248 100', f(20)]], a.left + 15, a.top + 188, 'left');
      rich(ctx, [['points for each voltage', f(20)]], a.left + 15, a.top + 212, 'left');
      rich(ctx, [['(h)', f(20)]], a.right - 10, a.top + 20, 'right');
      // legend
      ctx.save(); ctx.fillStyle = cyan;
      ctx.beginPath(); ctx.arc(a.left + 364, a.top + 194, 5.5, 0, 2 * Math.PI); ctx.fill(); ctx.restore();
      rich(ctx, [['HRS', f(20, 'italic')], [' \u2192 ', f(20)], ['LRS', f(20, 'italic')]], a.left + 375, a.top + 183, 'left');
      rich(ctx, [['Data for ', f(20)], ['HfO', f(20, 'italic')], ['2', f(14), 5]], a.left + 375, a.top + 207, 'left');
      // dashed ellipse around the 0.44 V group and arrow
      ctx.save(); ctx.strokeStyle = '#000'; ctx.lineWidth = 0.9; ctx.setLineDash([5, 3]);
      ctx.beginPath(); ctx.ellipse(px(0.4453), py(-2.46), 15, 38.5, 0, 0, 2 * Math.PI); ctx.stroke(); ctx.restore();
      arrow(ctx, px(0.364), py(-3.45), px(0.428), py(-2.53));
    } }]
  });
})();
</script>
</body>
</html>
